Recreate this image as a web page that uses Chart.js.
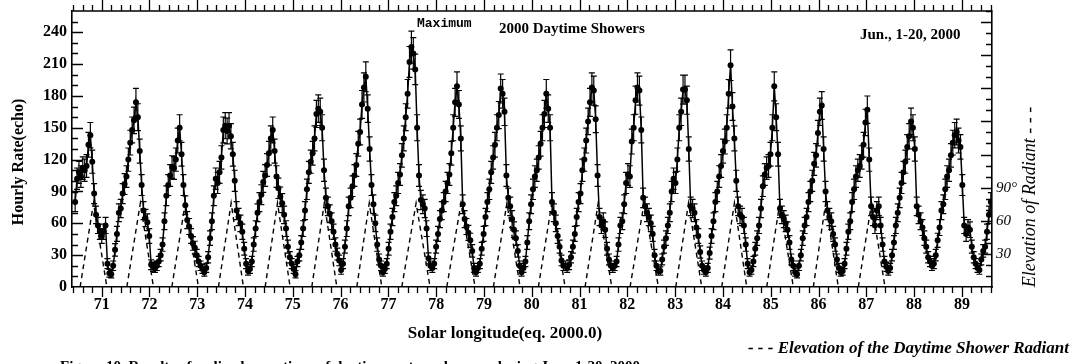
<!DOCTYPE html>
<html>
<head>
<meta charset="utf-8">
<title>2000 Daytime Showers</title>
<script src="https://cdn.jsdelivr.net/npm/chart.js@4.4.0/dist/chart.umd.min.js"></script>
<style>
  html, body { margin: 0; padding: 0; background: #fff; }
  #wrap { width: 1076px; height: 364px; }
</style>
</head>
<body>
<div id="wrap"><canvas id="showerChart" width="1076" height="364"></canvas></div>
<script>
// Hourly echo counts, one row per day (Jun. 1 - 20), last row = first hours of Jun. 21
const hourlyRates = [
  80, 102, 108, 104, 112, 110, 114, 134, 143, 118, 88, 68, 58, 52, 48, 52, 58, 22, 13, 12, 20, 35, 50, 70,
  74, 88, 97, 104, 120, 136, 148, 157, 174, 160, 128, 96, 72, 65, 61, 48, 21, 19, 18, 20, 24, 30, 40, 62,
  86, 96, 105, 113, 112, 120, 138, 150, 125, 96, 77, 63, 57, 48, 41, 37, 30, 24, 20, 17, 14, 18, 28, 46,
  62, 86, 102, 98, 108, 122, 148, 152, 147, 152, 142, 125, 100, 72, 66, 60, 52, 36, 22, 15, 17, 24, 40, 55,
  70, 80, 87, 99, 105, 115, 126, 140, 148, 128, 104, 93, 85, 79, 68, 55, 38, 28, 22, 17, 12, 24, 30, 42,
  55, 72, 92, 108, 118, 126, 140, 163, 168, 165, 150, 110, 84, 76, 69, 62, 52, 40, 31, 25, 16, 22, 38, 55,
  76, 84, 95, 105, 115, 135, 146, 172, 188, 198, 168, 130, 96, 78, 60, 40, 26, 20, 14, 17, 22, 36, 52, 66,
  80, 86, 98, 106, 124, 140, 160, 182, 212, 226, 220, 205, 150, 105, 82, 78, 74, 55, 27, 20, 18, 22, 38, 50,
  64, 72, 80, 90, 98, 106, 126, 150, 174, 189, 172, 140, 78, 64, 57, 51, 44, 34, 18, 14, 18, 22, 36, 50,
  66, 80, 92, 108, 122, 134, 150, 162, 187, 182, 165, 105, 84, 76, 64, 54, 46, 34, 20, 14, 18, 24, 42, 62,
  78, 92, 104, 110, 122, 135, 150, 163, 182, 168, 150, 80, 70, 60, 48, 38, 25, 20, 20, 18, 21, 28, 38, 50,
  66, 80, 88, 110, 120, 138, 156, 174, 188, 185, 158, 105, 66, 58, 62, 54, 36, 26, 20, 18, 20, 24, 40, 58,
  62, 78, 98, 106, 104, 137, 150, 176, 188, 185, 148, 84, 76, 70, 66, 60, 50, 30, 20, 15, 15, 26, 38, 46,
  58, 70, 90, 102, 98, 120, 150, 165, 186, 186, 176, 130, 76, 74, 70, 56, 48, 33, 20, 16, 14, 18, 32, 48,
  62, 80, 90, 104, 114, 128, 137, 150, 182, 209, 170, 140, 100, 76, 68, 66, 58, 40, 22, 14, 16, 24, 36, 46,
  58, 74, 95, 106, 112, 114, 125, 150, 189, 160, 125, 74, 68, 64, 60, 54, 42, 26, 20, 14, 12, 20, 30, 46,
  58, 66, 80, 90, 100, 116, 124, 145, 165, 171, 130, 90, 72, 66, 62, 50, 40, 26, 18, 14, 15, 22, 36, 52,
  62, 80, 92, 104, 110, 114, 122, 134, 155, 167, 120, 76, 66, 58, 72, 76, 58, 40, 24, 19, 15, 18, 30, 42,
  58, 70, 84, 98, 108, 118, 132, 142, 156, 150, 130, 76, 68, 62, 56, 46, 38, 28, 24, 20, 22, 30, 44, 56,
  72, 78, 92, 104, 110, 124, 136, 143, 146, 138, 132, 96, 58, 50, 56, 54, 38, 28, 22, 18, 16, 26, 34, 38,
  52, 68, 80
];
const START_LONG = 70.446;   // solar longitude of the first hourly bin
const HOUR_STEP = 0.03975;   // solar longitude covered by one hourly bin

// Radiant above the horizon: rise, transit and set (solar longitude), transit altitude (deg)
const radiantRise = [70.550, 71.527, 72.469, 73.444, 74.421, 75.397, 76.339, 77.280, 78.222,
                     79.197, 80.138, 81.115, 82.057, 83.013, 83.975, 84.916, 85.891, 86.833];
const radiantTransit = [70.83, 71.81, 72.75, 73.71, 74.68, 75.66, 76.60, 77.58, 78.52,
                        79.48, 80.42, 81.39, 82.35, 83.28, 84.24, 85.19, 86.15, 87.11];
const radiantSet = [71.109, 72.084, 73.025, 73.967, 74.944, 75.921, 76.862, 77.872, 78.814,
                    79.755, 80.697, 81.674, 82.649, 83.556, 84.498, 85.473, 86.414, 87.391];
const radiantAlt = [76, 76, 76, 76, 76, 76, 76, 76, 76, 76, 76, 76, 76, 76, 76, 76, 76, 76];

// Axis ticks
const longTicks = [71, 72, 73, 74, 75, 76, 77, 78, 79, 80, 81, 82, 83, 84, 85, 86, 87, 88, 89];
const rateTicks = [0, 30, 60, 90, 120, 150, 180, 210, 240];
const elevTicks = [30, 60, 90];

const SERIF = "'Liberation Serif', 'Times New Roman', serif";

const rateData = hourlyRates.map((v, i) => ({ x: START_LONG + i * HOUR_STEP, y: v }));

const elevData = [];
radiantRise.forEach((r, i) => {
    elevData.push({ x: r, y: 0 });
    elevData.push({ x: radiantTransit[i], y: radiantAlt[i] });
    elevData.push({ x: radiantSet[i], y: 0 });
    elevData.push({ x: radiantSet[i] + 0.001, y: null });
});

// Poisson error bars (sqrt of the hourly count) on every rate point
const errorBars = {
    id: 'errorBars',
    afterDatasetsDraw(chart) {
        const { ctx, chartArea: a } = chart;
        const ys = chart.scales.y;
        const meta = chart.getDatasetMeta(0);
        ctx.save();
        ctx.beginPath();
        ctx.rect(a.left, a.top, a.right - a.left, a.bottom - a.top);
        ctx.clip();
        ctx.strokeStyle = '#000';
        ctx.lineWidth = 1.2;
        ctx.beginPath();
        meta.data.forEach((pt, i) => {
            const v = hourlyRates[i];
            const err = Math.sqrt(v);
            const top = ys.getPixelForValue(v + err);
            const bot = ys.getPixelForValue(v - err);
            ctx.moveTo(pt.x, top); ctx.lineTo(pt.x, bot);
            ctx.moveTo(pt.x - 3, top); ctx.lineTo(pt.x + 3, top);
            ctx.moveTo(pt.x - 3, bot); ctx.lineTo(pt.x + 3, bot);
        });
        ctx.stroke();
        ctx.restore();
    }
};

// Frame top edge plus major/minor tick marks on all four sides
const tickMarks = {
    id: 'tickMarks',
    afterDraw(chart) {
        const { ctx, chartArea: a } = chart;
        const xs = chart.scales.x, ys = chart.scales.y, y2s = chart.scales.y2;
        ctx.save();
        ctx.strokeStyle = '#000';
        ctx.lineWidth = 1.6;
        ctx.beginPath();
        ctx.moveTo(a.left, a.top);
        ctx.lineTo(a.right, a.top);
        ctx.stroke();

        ctx.lineWidth = 1.3;
        ctx.beginPath();
        for (let k = Math.ceil(xs.min * 5); k <= Math.floor(xs.max * 5); k++) {
            const px = Math.round(xs.getPixelForValue(k / 5)) + 0.5;
            const major = k % 5 === 0;
            ctx.moveTo(px, a.bottom); ctx.lineTo(px, a.bottom + (major ? 10 : 6));
            ctx.moveTo(px, a.top); ctx.lineTo(px, a.top - (major ? 11 : 6));
        }
        for (let v = 10; v < ys.max; v += 10) {
            const py = Math.round(ys.getPixelForValue(v)) + 0.5;
            ctx.moveTo(a.left, py); ctx.lineTo(a.left + (v % 30 === 0 ? 11 : 6), py);
        }
        for (let v = 10; v <= y2s.max; v += 10) {
            const py = Math.round(y2s.getPixelForValue(v)) + 0.5;
            ctx.moveTo(a.right, py); ctx.lineTo(a.right - (v % 30 === 0 ? 11 : 6), py);
        }
        ctx.stroke();
        ctx.restore();
    }
};

// Axis titles, headings and the caption lines
const chartTexts = {
    id: 'chartTexts',
    afterDraw(chart) {
        const ctx = chart.ctx;
        ctx.save();
        ctx.fillStyle = '#000';
        ctx.textBaseline = 'middle';

        ctx.save();
        ctx.translate(19, 162);
        ctx.rotate(-Math.PI / 2);
        ctx.textAlign = 'center';
        ctx.font = 'bold 16px ' + SERIF;
        ctx.fillText('Hourly Rate(echo)', 0, 0);
        ctx.restore();

        ctx.save();
        ctx.translate(1030, 197);
        ctx.rotate(-Math.PI / 2);
        ctx.textAlign = 'center';
        ctx.font = 'italic 18px ' + SERIF;
        ctx.fillText('Elevation of Radiant - - -', 0, 0);
        ctx.restore();

        ctx.textAlign = 'left';
        ctx.font = "bold 13px 'Liberation Mono', monospace";
        ctx.fillText('Maximum', 417, 24);
        ctx.font = 'bold 15px ' + SERIF;
        ctx.fillText('2000 Daytime Showers', 499, 29);
        ctx.fillText('Jun., 1-20, 2000', 860, 35);

        ctx.textAlign = 'center';
        ctx.font = 'bold 17px ' + SERIF;
        ctx.fillText('Solar longitude(eq. 2000.0)', 505, 334);

        ctx.textAlign = 'right';
        ctx.font = 'italic bold 17px ' + SERIF;
        ctx.fillText('- - - Elevation of the Daytime Shower Radiant', 1069, 349);

        ctx.textAlign = 'left';
        ctx.textBaseline = 'alphabetic';
        ctx.font = 'bold 15px ' + SERIF;
        ctx.fillText('Figure 10. Results of radio observations of daytime meteor showers during June 1-20, 2000', 60, 371);
        ctx.restore();
    }
};

const ctx = document.getElementById('showerChart').getContext('2d');
new Chart(ctx, {
    type: 'line',
    data: {
        datasets: [{
            label: 'Hourly Rate',
            data: rateData,
            yAxisID: 'y',
            borderColor: '#000',
            borderWidth: 1.5,
            pointRadius: 3,
            pointBackgroundColor: '#000',
            pointBorderWidth: 0,
            tension: 0
        }, {
            label: 'Elevation of Radiant',
            data: elevData,
            yAxisID: 'y2',
            borderColor: '#000',
            borderWidth: 1.4,
            borderDash: [5, 4],
            pointRadius: 0,
            spanGaps: false,
            tension: 0
        }]
    },
    options: {
        responsive: false,
        animation: false,
        layout: { padding: { top: 11, left: 0, right: 0, bottom: 0 } },
        plugins: {
            legend: { display: false },
            tooltip: { enabled: false }
        },
        scales: {
            x: {
                type: 'linear',
                position: 'bottom',
                min: 70.38,
                max: 89.63,
                afterBuildTicks: (s) => { s.ticks = longTicks.map(v => ({ value: v })); },
                afterFit: (s) => {
                    s.height = 77;
                    s.paddingLeft = 0; s.paddingRight = 0; s.paddingTop = 0; s.paddingBottom = 0;
                },
                grid: { display: false, drawTicks: false },
                border: { display: true, color: '#000', width: 1.6 },
                ticks: {
                    autoSkip: false,
                    maxRotation: 0,
                    padding: 8,
                    color: '#000',
                    font: { family: SERIF, size: 16, weight: 'bold' }
                }
            },
            y: {
                type: 'linear',
                position: 'left',
                min: 0,
                max: 260,
                afterBuildTicks: (s) => { s.ticks = rateTicks.map(v => ({ value: v })); },
                afterFit: (s) => {
                    s.width = 72;
                    s.paddingLeft = 0; s.paddingRight = 0; s.paddingTop = 0; s.paddingBottom = 0;
                },
                grid: { display: false, drawTicks: false },
                border: { display: true, color: '#000', width: 1.6 },
                ticks: {
                    padding: 5,
                    color: '#000',
                    font: { family: SERIF, size: 16, weight: 'bold' }
                }
            },
            y2: {
                type: 'linear',
                position: 'right',
                min: 0,
                max: 250,
                afterBuildTicks: (s) => { s.ticks = elevTicks.map(v => ({ value: v })); },
                afterFit: (s) => {
                    s.width = 84;
                    s.paddingLeft = 0; s.paddingRight = 0; s.paddingTop = 0; s.paddingBottom = 0;
                },
                grid: { display: false, drawTicks: false },
                border: { display: true, color: '#000', width: 1.6 },
                ticks: {
                    padding: 4,
                    color: '#000',
                    font: { family: SERIF, size: 15, style: 'italic' },
                    callback: (v) => v === 90 ? '90\u00b0' : String(v)
                }
            }
        }
    },
    plugins: [errorBars, tickMarks, chartTexts]
});
</script>
</body>
</html>
